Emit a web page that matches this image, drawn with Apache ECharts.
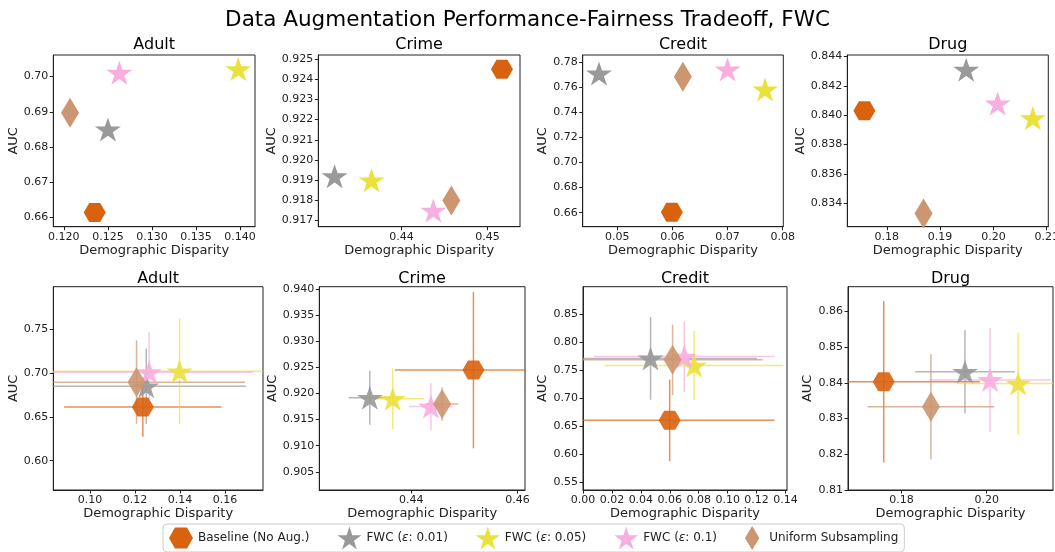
<!DOCTYPE html>
<html>
<head>
<meta charset="utf-8">
<title>Data Augmentation Performance-Fairness Tradeoff, FWC</title>
<script src="https://cdn.jsdelivr.net/npm/echarts@6/dist/echarts.min.js"></script>
<style>
  html, body { margin: 0; padding: 0; background: #fff; }
  #chart { width: 1055px; height: 552px; }
</style>
</head>
<body>
<div id="chart"></div>
<script>
// legend entries, in drawing order
const methods = ['Baseline (No Aug.)', 'FWC (ε: 0.01)', 'FWC (ε: 0.05)', 'FWC (ε: 0.1)', 'Uniform Subsampling'];
const datasets = ['Adult', 'Crime', 'Credit', 'Drug'];

// mean demographic disparity (x) per method
const adultDisparity  = [0.1235, 0.1250, 0.1398, 0.1263, 0.1207];
const crimeDisparity  = [0.4517, 0.4322, 0.4365, 0.4437, 0.4458];
const creditDisparity = [0.0599, 0.0467, 0.0768, 0.0700, 0.0619];
const drugDisparity   = [0.1758, 0.1949, 0.2074, 0.2008, 0.1869];

// mean AUC (y) per method
const adultAUC  = [0.6614, 0.6850, 0.7021, 0.7011, 0.6897];
const crimeAUC  = [0.9245, 0.9192, 0.9190, 0.9175, 0.9180];
const creditAUC = [0.6603, 0.7712, 0.7584, 0.7744, 0.7686];
const drugAUC   = [0.8403, 0.8431, 0.8398, 0.8408, 0.8333];

// std of disparity (horizontal error bars)
const adultDisparityStd  = [0.0350, 0.0443, 0.0600, 0.0463, 0.0482];
const crimeDisparityStd  = [0.0148, 0.0040, 0.0059, 0.0041, 0.0030];
const creditDisparityStd = [0.0724, 0.0735, 0.0617, 0.0624, 0.0622];
const drugDisparityStd   = [0.0226, 0.0117, 0.0141, 0.0143, 0.0149];

// std of AUC (vertical error bars)
const adultAUCStd  = [0.0340, 0.0430, 0.0605, 0.0460, 0.0476];
const crimeAUCStd  = [0.0150, 0.0052, 0.0058, 0.0045, 0.0032];
const creditAUCStd = [0.0730, 0.0740, 0.0618, 0.0634, 0.0630];
const drugAUCStd   = [0.0226, 0.0117, 0.0143, 0.0146, 0.0147];

// tick labels, top row (means only) and bottom row (with error bars)
const topXTicks = [[0.120, 0.125, 0.130, 0.135, 0.140], [0.44, 0.45], [0.05, 0.06, 0.07, 0.08], [0.18, 0.19, 0.20, 0.21]];
const topYTicks = [[0.66, 0.67, 0.68, 0.69, 0.70],
                   [0.917, 0.918, 0.919, 0.920, 0.921, 0.922, 0.923, 0.924, 0.925],
                   [0.66, 0.68, 0.70, 0.72, 0.74, 0.76, 0.78],
                   [0.834, 0.836, 0.838, 0.840, 0.842, 0.844]];
const botXTicks = [[0.10, 0.12, 0.14, 0.16], [0.44, 0.46], [0.00, 0.02, 0.04, 0.06, 0.08, 0.10, 0.12, 0.14], [0.18, 0.20]];
const botYTicks = [[0.60, 0.65, 0.70, 0.75],
                   [0.905, 0.910, 0.915, 0.920, 0.925, 0.930, 0.935, 0.940],
                   [0.55, 0.60, 0.65, 0.70, 0.75, 0.80, 0.85],
                   [0.81, 0.82, 0.83, 0.84, 0.85, 0.86]];
const topXDec = [3, 2, 2, 2], topYDec = [2, 3, 2, 3];
const botXDec = [2, 2, 2, 2], botYDec = [2, 3, 2, 2];

// axis limits (as in the picture)
const topXRange = [[0.1188, 0.1417], [0.4303, 0.4538], [0.04375, 0.0801], [0.1726, 0.2103]];
const topYRange = [[0.6574, 0.7061], [0.9167, 0.9252], [0.6488, 0.7859], [0.8324, 0.8441]];
const botXRange = [[0.0837, 0.1769], [0.4227, 0.4614], [0, 0.141], [0.1674, 0.2156]];
const botYRange = [[0.5665, 0.7987], [0.9015, 0.9405], [0.5357, 0.8995], [0.81, 0.8669]];

const disparity = [adultDisparity, crimeDisparity, creditDisparity, drugDisparity];
const auc = [adultAUC, crimeAUC, creditAUC, drugAUC];
const disparityStd = [adultDisparityStd, crimeDisparityStd, creditDisparityStd, drugDisparityStd];
const aucStd = [adultAUCStd, crimeAUCStd, creditAUCStd, drugAUCStd];

// marker look
const colors = ['#d9620f', '#999999', '#ebe13c', '#f8aede', '#cc9670'];
const hexPath = 'path://M0,4.33 L2.5,0 L7.5,0 L10,4.33 L7.5,8.66 L2.5,8.66 Z';
const starPath = 'path://M50,0 L61.23,34.55 L97.55,34.55 L68.17,55.9 L79.39,90.45 L50,69.1 L20.61,90.45 L31.83,55.9 L2.45,34.55 L38.77,34.55 Z';
const diamondPath = 'path://M0,1 L0.6,0 L1.2,1 L0.6,2 Z';
const symbols = [hexPath, starPath, starPath, starPath, diamondPath];
const sizes = [[22, 19], [26, 24], [26, 24], [26, 24], [18, 30]];

// panel boxes, in px
const gridLeft = [[53.3, 318.3, 582.7, 847.3], [53.3, 319.3, 583, 848]];
const gridRight = [[255, 520, 783.3, 1048.3], [263, 525, 787, 1053]];
const rowTop = [55, 286.7], rowBottom = [226.7, 490];
const yNameGap = [[31, 37, 31, 38], [31, 38, 29.5, 29.5]];
const xNameGap = [17, 15];

const FONT = 'DejaVu Sans';
const INK = '#222';

let myChart = echarts.init(document.getElementById('chart'), null, { renderer: 'canvas' });

let grids = [], xAxes = [], yAxes = [], series = [], graphics = [];

for (let row = 0; row < 2; row++) {
    for (let p = 0; p < 4; p++) {
        const idx = row * 4 + p;
        const left = gridLeft[row][p], right = gridRight[row][p];
        grids.push({
            left: left, top: rowTop[row],
            width: right - left, height: rowBottom[row] - rowTop[row],
            show: true, borderColor: INK, borderWidth: 1,
            outerBoundsMode: 'none', containLabel: false
        });

        const xr = row ? botXRange[p] : topXRange[p];
        const yr = row ? botYRange[p] : topYRange[p];
        const xt = row ? botXTicks[p] : topXTicks[p];
        const yt = row ? botYTicks[p] : topYTicks[p];
        const xd = row ? botXDec[p] : topXDec[p];
        const yd = row ? botYDec[p] : topYDec[p];

        xAxes.push({
            type: 'value', gridIndex: idx, min: xr[0], max: xr[1],
            name: 'Demographic Disparity', nameLocation: 'middle', nameGap: xNameGap[row],
            nameTextStyle: { fontFamily: FONT, fontSize: 13, color: INK },
            axisLine: { show: true, onZero: false, lineStyle: { color: INK, width: 1 } },
            axisTick: { show: true, length: 3.5, customValues: xt, lineStyle: { color: INK } },
            axisLabel: {
                customValues: xt, margin: 5, fontFamily: FONT, fontSize: 11, color: INK,
                formatter: (v) => v.toFixed(xd)
            },
            splitLine: { show: false }
        });
        yAxes.push({
            type: 'value', gridIndex: idx, min: yr[0], max: yr[1],
            name: 'AUC', nameLocation: 'middle', nameGap: yNameGap[row][p],
            nameTextStyle: { fontFamily: FONT, fontSize: 13, color: INK },
            axisLine: { show: true, onZero: false, lineStyle: { color: INK, width: 1 } },
            axisTick: { show: true, length: 3.5, customValues: yt, lineStyle: { color: INK } },
            axisLabel: {
                customValues: yt, margin: 5, fontFamily: FONT, fontSize: 11, color: INK,
                formatter: (v) => v.toFixed(yd)
            },
            splitLine: { show: false }
        });

        // subplot title
        graphics.push({
            type: 'text', x: (left + right) / 2, y: row ? 278.5 : 45,
            style: { text: datasets[p], fontFamily: FONT, fontSize: 16, fill: '#000',
                     textAlign: 'center', textVerticalAlign: 'middle' }
        });

        for (let m = 0; m < methods.length; m++) {
            const x = disparity[p][m], y = auc[p][m];
            if (row === 1) {
                // error bars (no caps), drawn under the markers
                series.push({
                    name: methods[m], type: 'custom',
                    xAxisIndex: idx, yAxisIndex: idx,
                    itemStyle: { color: colors[m] },
                    data: [[x, y, disparityStd[p][m], aucStd[p][m]]],
                    encode: { x: 0, y: 1 },
                    z: 2, silent: true,
                    renderItem: function (params, api) {
                        const cx = api.value(0), cy = api.value(1);
                        const xe = api.value(2), ye = api.value(3);
                        const cs = params.coordSys;
                        const clampX = (v) => Math.max(cs.x, Math.min(cs.x + cs.width, v));
                        const clampY = (v) => Math.max(cs.y, Math.min(cs.y + cs.height, v));
                        const c = api.coord([cx, cy]);
                        const l = api.coord([cx - xe, cy]), r = api.coord([cx + xe, cy]);
                        const t = api.coord([cx, cy + ye]), b = api.coord([cx, cy - ye]);
                        const st = { stroke: api.visual('color'), lineWidth: 1.5, opacity: 0.7 };
                        return {
                            type: 'group',
                            children: [
                                { type: 'line', shape: { x1: clampX(l[0]), y1: c[1], x2: clampX(r[0]), y2: c[1] }, style: st },
                                { type: 'line', shape: { x1: c[0], y1: clampY(t[1]), x2: c[0], y2: clampY(b[1]) }, style: st }
                            ]
                        };
                    }
                });
            }
            series.push({
                name: methods[m], type: 'scatter',
                xAxisIndex: idx, yAxisIndex: idx,
                data: [[x, y]],
                symbol: symbols[m], symbolSize: sizes[m], symbolKeepAspect: false,
                itemStyle: { color: colors[m], opacity: row ? 0.9 : 1 },
                z: 3, silent: true
            });
        }
    }
}

let option = {
    animation: false,
    textStyle: { fontFamily: FONT },
    title: {
        text: 'Data Augmentation Performance-Fairness Tradeoff, FWC',
        left: 'center', top: 4,
        textStyle: { fontFamily: FONT, fontSize: 21.5, fontWeight: 'normal', color: '#000' }
    },
    legend: {
        left: 163, top: 524,
        orient: 'horizontal',
        padding: [2, 6],
        itemGap: 28,
        itemWidth: 24, itemHeight: 24,
        borderColor: '#cccccc', borderWidth: 1, borderRadius: 4,
        textStyle: {
            fontFamily: FONT, fontSize: 12, color: INK,
            rich: { e: { fontFamily: FONT, fontSize: 12, fontStyle: 'italic', color: INK } }
        },
        formatter: (name) => name.replace('ε', '{e|ε}'),
        data: methods.map((m, i) => ({ name: m, icon: symbols[i], itemStyle: { color: colors[i] } }))
    },
    grid: grids,
    xAxis: xAxes,
    yAxis: yAxes,
    graphic: graphics,
    series: series
};
myChart.setOption(option);
window.addEventListener('resize', function () {
    setTimeout(function () { myChart.resize(); }, 100);
});
</script>
</body>
</html>
